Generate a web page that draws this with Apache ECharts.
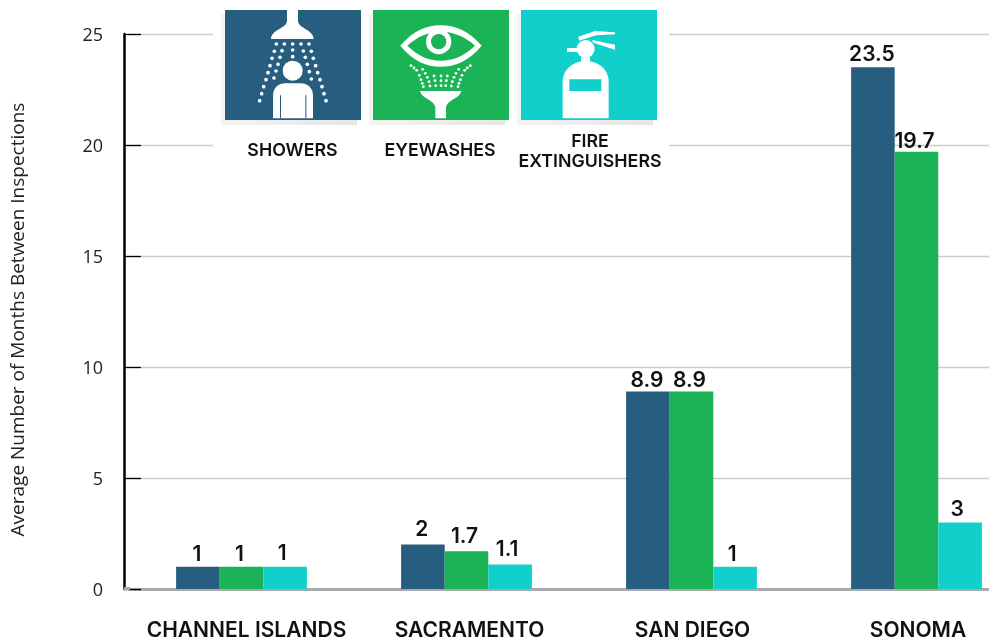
<!DOCTYPE html>
<html><head><meta charset="utf-8">
<style>html,body{margin:0;padding:0;background:#fff}#c{width:989px;height:640px}</style>
<script src="https://cdn.jsdelivr.net/npm/echarts@6/dist/echarts.min.js"></script>
</head><body><div id="c"></div>
<script>
const categories = ['CHANNEL ISLANDS','SACRAMENTO','SAN DIEGO','SONOMA'];
const showers = [1, 2, 8.9, 23.5];
const eyewashes = [1, 1.7, 8.9, 19.7];
const extinguishers = [1, 1.1, 1, 3];
const yTicks = [0,5,10,15,20,25];
const yTitle = 'Average Number of Months Between Inspections';
const legendNames = ['SHOWERS','EYEWASHES','FIRE\nEXTINGUISHERS'];
const BLUE='#275E7F', GREEN='#1AB355', TEAL='#11D0CB';
const categoryShift = [10, 6, 2, 3];
const labelLift = {showers:[0,-2,2,0], eyewashes:[0,-2,2,3], extinguishers:[-1,-2,0,0]};

const white={fill:'#fff'};
const dot=(x,y,r)=>({type:'circle',shape:{cx:x,cy:y,r:r},style:white,silent:true});
let glyphCount=0;
const poly=(d,fill)=>{
  const name='glyphPath'+(glyphCount++);
  echarts.graphic.registerShape(name,echarts.graphic.extendPath(d,{}));
  return {type:name,style:{fill:fill||'#fff'},silent:true};
};
const rectS=(x,y,w,h,fill)=>({type:'rect',shape:{x,y,width:w,height:h},style:{fill},silent:true});

// Shower glyph, in 3x units
const showerDots=[[199,132],[223,132],[248,132],[273,132],[297,132],[193,154],[216,152],[248,150],[280,153],[304,154],
[186,175],[210,172],[248,170],[286,172],[310,175],[180,197],[204,193],[292,193],[317,197],[174,218],[198,213],[298,215],[323,218],
[168,239],[192,234],[304,237],[330,239],[161,260],[336,260],[155,281],[342,281],[149,302],[348,302]];
const showerGlyph={type:'group',x:210,y:0,scaleX:1/3,scaleY:1/3,children:[
  poly('M231 30 L264 30 L264 62 C264 85 310 88 311 117 L183 117 C184 88 231 85 231 62 Z'),
  ...showerDots.map(p=>dot(p[0],p[1],5.5)),
  dot(248,212,30),
  poly('M189 355 L189 288 C189 264 205 250 226 250 L272 250 C293 250 309 264 309 288 L309 355 Z'),
  rectS(210,286,3,69,BLUE),rectS(286,286,3,69,BLUE)
]};
// Eyewash glyph
const halfFan=[[603,197],[612,204],[620,211],[628,226],[633,239],[637,250],[640,260],[638,208],[646,220],[652,232],[657,245],[660,258],[672,228],[675,242],[677,257]];
const fan=[...halfFan,...halfFan.map(p=>[1384-p[0],p[1]]),[693,228],[693,242],[693,257]];
const eyeGlyph={type:'group',x:210,y:0,scaleX:1/3,scaleY:1/3,children:[
  poly('M571 137 C610 92 650 76 692 76 C735 76 775 92 815 137 C775 184 735 200 692 200 C650 200 610 184 571 137 Z'),
  poly('M592 137 C625 108 655 95 692 95 C730 95 762 108 795 137 C762 168 730 182 692 182 C655 182 625 168 592 137 Z',GREEN),
  dot(686,125,38),
  {type:'circle',shape:{cx:686,cy:125,r:23},style:{fill:GREEN}},
  ...fan.map(p=>dot(p[0],p[1],4.2)),
  poly('M630 273 L754 273 C750 296 712 298 708 322 L708 355 L676 355 L676 322 C672 298 634 296 630 273 Z')
]};
// Extinguisher glyph
const fireGlyph={type:'group',x:500,y:0,scaleX:1/3,scaleY:1/3,children:[
  poly('M188 355 L188 245 C188 205 225 183 257 183 C290 183 326 205 326 245 L326 355 Z'),
  rectS(243,172,27,14,'#fff'),
  dot(257,147,27),
  rectS(201,144,30,12,'#fff'),
  poly('M235 110 L285 93 L345 97 L345 103 L288 106 L237 122 Z'),
  poly('M276 120 L345 134 L345 149 L280 128 Z'),
  rectS(208,238,96,35,TEAL)
]};

const shadow={type:'linear',x:0,y:0,x2:1,y2:0,colorStops:[{offset:0,color:'#f3f3f3'},{offset:1,color:'#e6e6e6'}]};
const panel=(x,color,glyph)=>[
  {type:'rect',shape:{x:x-4,y:14,width:136,height:111},style:{fill:shadow},silent:true},
  {type:'rect',shape:{x:x,y:10,width:136,height:110},style:{fill:color},silent:true},
  glyph
];
const legendText=(x,y,text)=>({type:'text',x:x,y:y,style:{text:text,font:'600 17.8px Inter',fill:'#111',align:'center',verticalAlign:'middle',lineHeight:20},silent:true});
const lift=(el,z)=>{el.z=z;(el.children||[]).forEach(c=>lift(c,z));return el;};

const chart=echarts.init(document.getElementById('c'),null,{renderer:'canvas'});
const barSeries=(name,data,color,dx,lifts)=>({
  name,type:'bar',barWidth:43.6,barGap:0,itemStyle:{color},
  data:data.map((v,i)=>({value:v,label:{offset:[dx,lifts[i]]}})),
  label:{show:true,position:'top',distance:2,color:'#111',fontFamily:'Inter',fontWeight:600,fontSize:21}
});
chart.setOption({
  animation:false,
  backgroundColor:'#fff',
  grid:{left:129,top:34,width:900,height:555,containLabel:false,outerBoundsMode:'none'},
  xAxis:{type:'category',
    data:categories.map((c,i)=>({value:c,textStyle:{padding:[0,0,0,categoryShift[i]]}})),
    axisTick:{show:false},
    axisLine:{lineStyle:{color:'#aaaaad',width:3}},
    axisLabel:{margin:31,color:'#111',fontFamily:'Inter',fontWeight:600,fontSize:21,interval:0},
    splitLine:{show:false}},
  yAxis:{type:'value',min:0,max:25,interval:5,offset:5,
    name:yTitle,nameLocation:'middle',nameGap:96,
    nameTextStyle:{fontFamily:'Open Sans',fontSize:19,color:'#222',padding:[0,0,0,-16]},
    axisLine:{show:true,lineStyle:{color:'#000',width:2.5}},
    axisTick:{show:true,inside:true,length:17,lineStyle:{color:'#000',width:1.3}},
    axisLabel:{margin:21,color:'#222',fontFamily:'Open Sans',fontSize:18,verticalAlign:'top',lineHeight:4,
      formatter:v=>yTicks.includes(v)?String(v):''},
    splitLine:{show:true,lineStyle:{color:'#cccccc',width:1.3}}},
  series:[barSeries('Showers',showers,BLUE,-1,labelLift.showers),barSeries('Eyewashes',eyewashes,GREEN,-2,labelLift.eyewashes),barSeries('Fire Extinguishers',extinguishers,TEAL,-3,labelLift.extinguishers)],
  graphic:{elements:[
    {type:'rect',shape:{x:124,y:587,width:6,height:3},style:{fill:'#aaaaad'},silent:true},
    {type:'rect',shape:{x:213,y:0,width:456,height:175},style:{fill:'#fff'},silent:true},
    ...panel(225,BLUE,showerGlyph),
    ...panel(373,GREEN,eyeGlyph),
    ...panel(521,TEAL,fireGlyph),
    legendText(292.5,150.5,legendNames[0]),
    legendText(440,150.5,legendNames[1]),
    legendText(590,151.5,legendNames[2])
  ].map(e=>lift(e,5))}
});
</script></body></html>
